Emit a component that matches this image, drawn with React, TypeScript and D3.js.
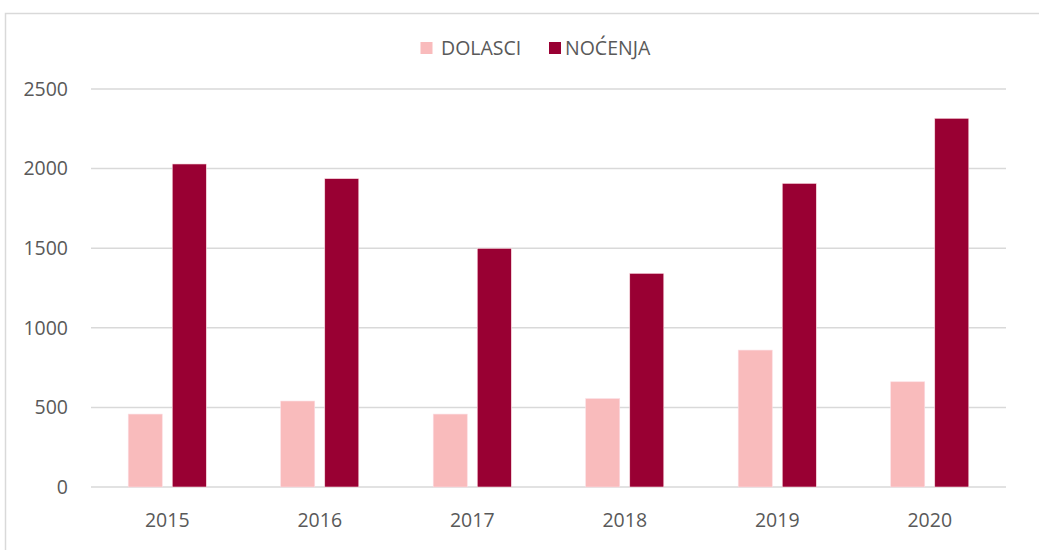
import React from "react";
import * as d3 from "d3";

const years = ["2015", "2016", "2017", "2018", "2019", "2020"];
const seriesNames = ["DOLASCI", "NOĆENJA"];
const dolasci = [458, 540, 458, 555, 860, 661];
const nocenja = [2029, 1937, 1499, 1342, 1907, 2316];
const yTicks = [0, 500, 1000, 1500, 2000, 2500];
const colors = ["#F9BBBC", "#990033"];

const W = 1039;
const H = 550;
const plot = { left: 91, right: 1006, top: 89, bottom: 487 };
const FONT = "'Open Sans', 'Liberation Sans', sans-serif";
const FS = 19.5;

export default function App() {
  const x0 = d3.scaleBand<string>().domain(years).range([plot.left, plot.right]).padding(0);
  const bw = x0.bandwidth();
  const x1 = d3
    .scaleBand<string>()
    .domain(seriesNames)
    .range([bw * 0.244, bw * 0.756])
    .paddingInner(0.227)
    .paddingOuter(0);
  const y = d3.scaleLinear().domain([0, 2500]).range([plot.bottom, plot.top]);
  const data = [dolasci, nocenja];

  return (
    <svg width={W} height={H} style={{ position: "absolute", left: 0, top: 0, background: "#fff" }}>
      <rect x={5.5} y={13.5} width={W + 10} height={H + 10} fill="#fff" stroke="#d9d9d9" strokeWidth={1.5} />
      {yTicks.map((t) => (
        <g key={t}>
          <line x1={plot.left} x2={plot.right} y1={y(t)} y2={y(t)} stroke="#d9d9d9" strokeWidth={1.5} />
          <text x={68} y={y(t)} dy="0.35em" textAnchor="end" fontFamily={FONT} fontSize={FS} fill="#595959">
            {t}
          </text>
        </g>
      ))}
      {years.map((yr, i) => (
        <g key={yr} transform={`translate(${x0(yr)},0)`}>
          {seriesNames.map((s, j) => (
            <rect
              key={s}
              x={x1(s)}
              y={y(data[j][i])}
              width={x1.bandwidth()}
              height={y(0) - y(data[j][i])}
              fill={colors[j]}
              stroke="#fbdde3"
              strokeWidth={0.6}
            />
          ))}
          <text
            x={bw / 2}
            y={520}
            dy="0.35em"
            textAnchor="middle"
            fontFamily={FONT}
            fontSize={FS}
            fill="#595959"
          >
            {yr}
          </text>
        </g>
      ))}
      <g>
        <rect x={420.5} y={42} width={12} height={12} fill={colors[0]} />
        <text x={441} y={48} dy="0.35em" fontFamily={FONT} fontSize={FS} fill="#595959">
          {seriesNames[0]}
        </text>
        <rect x={549} y={42} width={12} height={12} fill={colors[1]} />
        <text x={565} y={48} dy="0.35em" fontFamily={FONT} fontSize={FS} fill="#595959">
          {seriesNames[1]}
        </text>
      </g>
    </svg>
  );
}
